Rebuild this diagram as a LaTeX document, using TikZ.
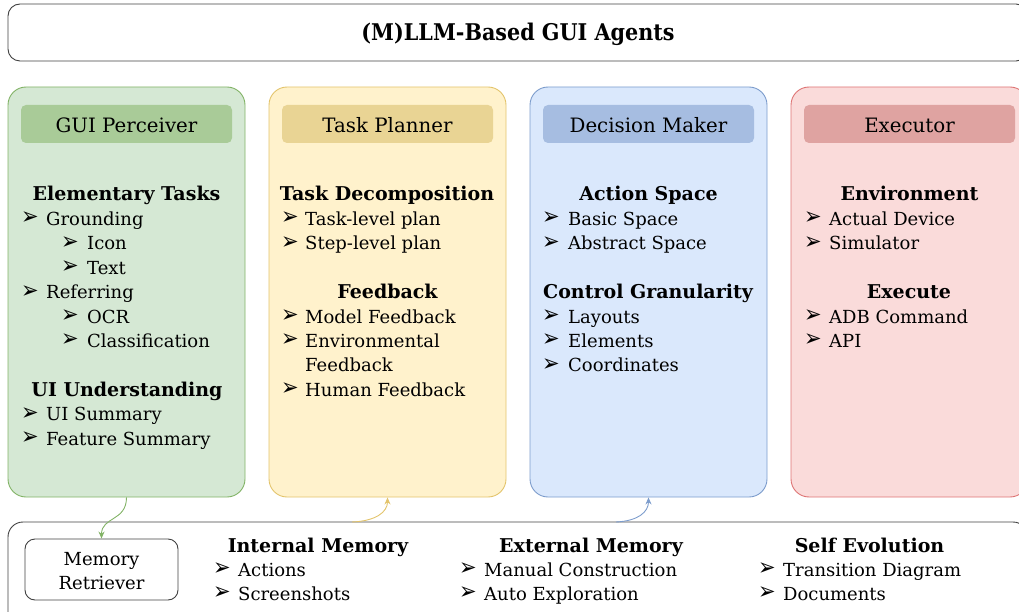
\documentclass[tikz,border=0pt]{standalone}
\usepackage{fontspec}
\setmainfont{DejaVu Serif}
\newfontfamily\bulfont{DejaVu Sans}
\newfontfamily\titlefont{DejaVu Serif}[FakeStretch=0.9]
\usetikzlibrary{arrows.meta}
\definecolor{gfill}{HTML}{D5E8D4}
\definecolor{gline}{HTML}{82B366}
\definecolor{ghead}{HTML}{A9CB98}
\definecolor{yfill}{HTML}{FFF2CC}
\definecolor{yline}{HTML}{E3C46C}
\definecolor{yhead}{HTML}{E9D494}
\definecolor{bfill}{HTML}{DAE8FC}
\definecolor{bline}{HTML}{7C9CCC}
\definecolor{bhead}{HTML}{A6BDE1}
\definecolor{rfill}{HTML}{FADBDA}
\definecolor{rline}{HTML}{DE7474}
\definecolor{rhead}{HTML}{DFA3A1}
\definecolor{frame}{HTML}{404040}
\tikzset{
  panel/.style={draw, line width=0.9pt, rounded corners=18pt, minimum width=237pt, minimum height=410pt, inner sep=0pt},
  headbox/.style={rounded corners=5pt, minimum width=211pt, minimum height=38pt, inner sep=0pt},
  headtxt/.style={anchor=base, inner sep=0pt, font=\fontsize{19.8}{22}\selectfont},
  itm/.style={anchor=base west, inner sep=0pt, font=\fontsize{18}{20}\selectfont},
  hd/.style={anchor=base, inner sep=0pt, font=\fontsize{19}{21}\selectfont\bfseries},
  bl/.style={anchor=base west, inner sep=0pt, font=\bulfont\fontsize{20}{22}\selectfont},
  framebox/.style={draw=frame, line width=0.9pt, inner sep=0pt},
  conn/.style={line width=0.9pt, -{Stealth[length=7pt,width=6pt]}}
}
\newcommand\bitem[5]{\node[bl] (#1b) at (#2-1,#4-0.5) {\scalebox{1.05}[1.2]{➢}}; \node[itm] (#1) at (#3,#4) {#5};}
\begin{document}
\begin{tikzpicture}[x=1pt,y=-1pt]
\useasboundingbox (0,0) rectangle (1019,612);
% title
\node[framebox, rounded corners=12pt, minimum width=1020pt, minimum height=57pt] (title) at (518,32.5) {};
\node[anchor=base, inner sep=0pt, font=\titlefont\bfseries\fontsize{23}{26}\selectfont] (titletxt) at (518,41) {(M)LLM-Based GUI Agents};
% panels
\node[panel, fill=gfill, draw=gline] (gp) at (126.5,292) {};
\node[panel, fill=yfill, draw=yline] (yp) at (387.5,292) {};
\node[panel, fill=bfill, draw=bline] (bp) at (648.5,292) {};
\node[panel, fill=rfill, draw=rline] (rp) at (909.5,292) {};
% header boxes
\node[headbox, fill=ghead] (gh) at (126.5,124) {};
\node[headbox, fill=yhead] (yh) at (387.5,124) {};
\node[headbox, fill=bhead] (bh) at (648.5,124) {};
\node[headbox, fill=rhead] (rh) at (909.5,124) {};
\node[headtxt] (ght) at (126.5,133) {GUI Perceiver};
\node[headtxt] (yht) at (387.5,133) {Task Planner};
\node[headtxt] (bht) at (648.5,133) {Decision Maker};
\node[headtxt] (rht) at (909.5,133) {Executor};
% green content
\node[hd] (g0) at (126.5,201) {Elementary Tasks};
\bitem{g1}{22}{46}{225.4}{Grounding}
\bitem{g2}{62}{87}{249.8}{Icon}
\bitem{g3}{62}{87}{274.2}{Text}
\bitem{g4}{22}{46}{298.6}{Referring}
\bitem{g5}{62}{87}{323}{OCR}
\bitem{g6}{62}{87}{347.4}{Classification}
\node[hd] (g8) at (127,396.2) {UI Understanding};
\bitem{g9}{22}{46}{420.6}{UI Summary}
\bitem{g10}{22}{46}{445}{Feature Summary}
% yellow content
\node[hd] (y0) at (387,201) {Task Decomposition};
\bitem{y1}{282}{305}{225.4}{Task-level plan}
\bitem{y2}{282}{305}{249.8}{Step-level plan}
\node[hd] (y4) at (387.5,298.6) {Feedback};
\bitem{y5}{282}{305}{323}{Model Feedback}
\bitem{y6}{282}{305}{347.4}{Environmental}
\node[itm] (y7) at (305,371.8) {Feedback};
\bitem{y8}{282}{305}{396.2}{Human Feedback}
% blue content
\node[hd] (b0) at (648.5,201) {Action Space};
\bitem{b1}{543}{568}{225.4}{Basic Space}
\bitem{b2}{543}{568}{249.8}{Abstract Space}
\node[hd] (b4) at (648,298.6) {Control Granularity};
\bitem{b5}{543}{568}{323}{Layouts}
\bitem{b6}{543}{568}{347.4}{Elements}
\bitem{b7}{543}{568}{371.8}{Coordinates}
% red content
\node[hd] (r0) at (909.5,201) {Environment};
\bitem{r1}{805}{829}{225.4}{Actual Device}
\bitem{r2}{805}{829}{249.8}{Simulator}
\node[hd] (r4) at (909,298.6) {Execute};
\bitem{r5}{805}{829}{323}{ADB Command}
\bitem{r6}{805}{829}{347.4}{API}
% bottom memory box
\node[framebox, rounded corners=15pt, minimum width=1020pt, minimum height=110pt] (mem) at (518,577) {};
\node[framebox, rounded corners=10pt, minimum width=153pt, minimum height=61pt] (mr) at (101.5,569.5) {};
\node[anchor=base, inner sep=0pt, font=\fontsize{18}{20}\selectfont] (mr1) at (101.5,565) {Memory};
\node[anchor=base, inner sep=0pt, font=\fontsize{18}{20}\selectfont] (mr2) at (101.5,589) {Retriever};
\node[hd] (m0) at (318,552) {Internal Memory};
\bitem{m1}{214}{238}{576}{Actions}
\bitem{m2}{214}{238}{600}{Screenshots}
\node[hd] (e0) at (591,552) {External Memory};
\bitem{e1}{460}{484}{576}{Manual Construction}
\bitem{e2}{460}{484}{600}{Auto Exploration}
\node[hd] (s0) at (869.5,552) {Self Evolution};
\bitem{s1}{759}{783}{576}{Transition Diagram}
\bitem{s2}{759}{783}{600}{Documents}
% connectors
\coordinate (ys) at (352,522);
\coordinate (bs) at (616,522);
\draw[conn, gline] (gp.south) .. controls +(0,24) and +(0,-22) .. (mr.north);
\draw[conn, yline] (ys) .. controls (376,521) and (387.5,512) .. (yp.south);
\draw[conn, bline] (bs) .. controls (638,521) and (648.5,512) .. (bp.south);
\end{tikzpicture}
\end{document}
